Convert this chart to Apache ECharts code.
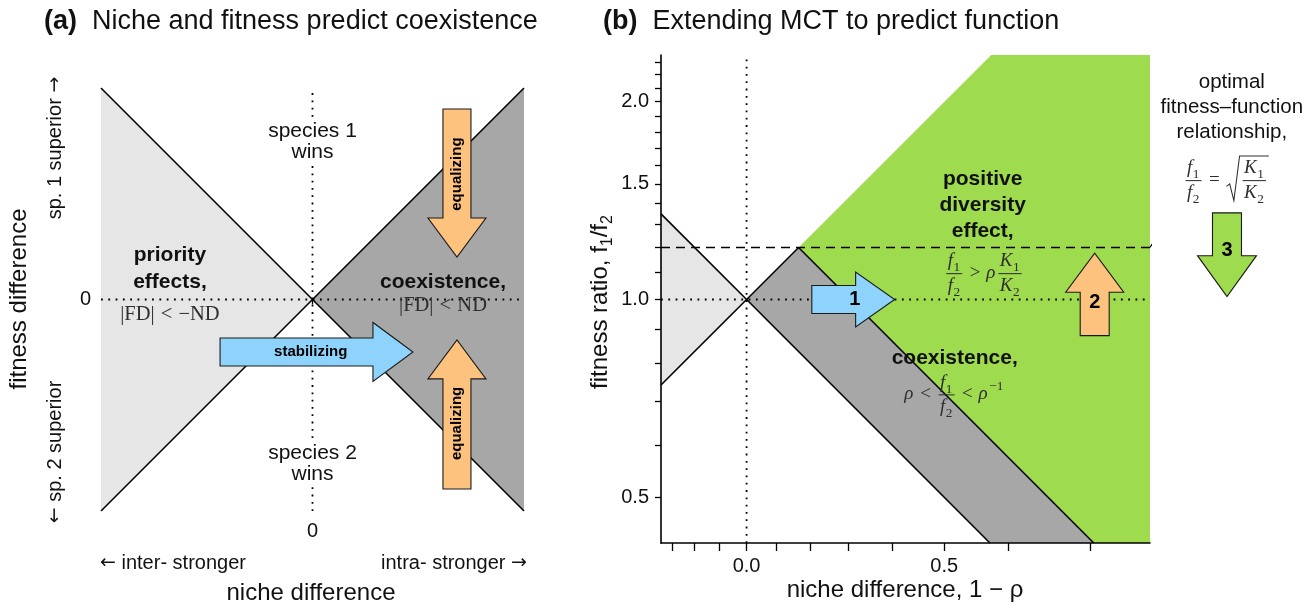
<!DOCTYPE html>
<html>
<head>
<meta charset="utf-8">
<script src="https://cdn.jsdelivr.net/npm/echarts@6/dist/echarts.min.js"></script>
<style>
  html, body { margin: 0; padding: 0; background: #fff; }
  #chart { width: 1316px; height: 608px; }
</style>
</head>
<body>
<div id="chart"></div>
<script>
// ---------- Panel (a): niche difference vs fitness difference (schematic) ----------
const nicheRangeA = [-1, 1];
const fitnessRangeA = [-1, 1];
const priorityRegionA = [[-1, 1], [0, 0], [-1, -1]];
const coexistRegionA = [[1, 1], [0, 0], [1, -1]];
const boundaryDownA = [[-1, 1], [1, -1]];
const boundaryUpA = [[-1, -1], [1, 1]];

// ---------- Panel (b): niche difference 1-ρ vs fitness ratio f1/f2 ----------
const nicheRangeB = [-0.35, 0.757];
const ratioRangeB = [0.426, 2.356];
const nicheTicksB = [-0.3, -0.2, -0.1, 0, 0.1, 0.2, 0.3, 0.4, 0.5, 0.6, 0.7];
const nicheLabelsB = [0, 0.5];
const ratioTicksB = [0.5, 0.6, 0.7, 0.8, 0.9, 1.0, 1.1, 1.2, 1.3, 1.4, 1.5, 1.6, 1.7, 1.8, 1.9, 2.0, 2.1, 2.2, 2.3];
const ratioLabelsB = [0.5, 1.0, 1.5, 2.0];
const optimalRatioB = 1.2;                                              // sqrt(K1/K2)
const lowerBoundB = [[-0.35, 1.35], [0, 1], [0.574, 0.426]];            // f1/f2 = rho
const upperBoundB = [[-0.35, 0.741], [0, 1], [0.1667, 1.2]];            // f1/f2 = 1/rho
const diversityBoundB = [[0.1667, 1.2], [0.704, 0.426]];                // f1/f2 = rho*K1/K2
const priorityRegionB = [[-0.35, 1.35], [0, 1], [-0.35, 0.741]];
const coexistRegionB = [[0, 1], [0.1667, 1.2], [0.704, 0.426], [0.574, 0.426]];
const diversityRegionB = [[0.1667, 1.2], [0.576, 2.356], [0.757, 2.356], [0.757, 0.426], [0.704, 0.426]];

// ---------- styling ----------
const SANS = '"Liberation Sans", Arial, Helvetica, sans-serif';
const ARROWS = '"DejaVu Sans", sans-serif';
const SERIF = '"Liberation Serif", "DejaVu Serif", serif';
const INK = '#111';
const MATH_INK = '#2e2e2e';
const LIGHT_GREY = '#e6e6e6';
const DARK_GREY = '#a7a7a7';
const GREEN = '#9edb4e';
const BLUE = '#8ed3fb';
const ORANGE = '#fdc27e';

// Panel (b) axes are drawn in log space: u = -log2(rho), v = log2(f1/f2)
const toU = x => -Math.log2(1 - x);
const toV = f => Math.log2(f);
const idA = p => p;
const tB = p => [toU(p[0]), toV(p[1])];

// ---------- small math typesetter (fractions, sub/superscripts, radicals) ----------
const measureCtx = document.createElement('canvas').getContext('2d');
function mFont(size, italic) { return (italic ? 'italic ' : '') + size + 'px ' + SERIF; }
function textWidth(s, font) { measureCtx.font = font; return measureCtx.measureText(s).width; }
function rowWidth(row, fs) { return row.reduce((w, t) => w + tokWidth(t, fs), 0); }
function tokWidth(t, fs) {
  if (t.op) return textWidth(t.op, mFont(fs, false)) + fs * 0.6;
  if (t.frac) return Math.max(rowWidth(t.frac[0], fs), rowWidth(t.frac[1], fs)) + fs * 0.35;
  if (t.sqrt) return fs * 0.8 + rowWidth(t.sqrt, fs) + fs * 0.05;
  const s = fs * 0.7;
  let ws = 0;
  if (t.sub) ws = Math.max(ws, textWidth(t.sub, mFont(s, false)));
  if (t.sup) ws = Math.max(ws, textWidth(t.sup, mFont(s, false)) + 0.05 * fs);
  return textWidth(t.v, mFont(fs, t.it)) + ws + (t.it ? fs * 0.06 : 0);
}
function mText(s, x, y, size, italic, color, align) {
  return { type: 'text', x: x, y: y, style: { text: s, fontSize: size, fontFamily: SERIF,
    fontStyle: italic ? 'italic' : 'normal', fill: color, align: align, verticalAlign: 'middle' } };
}
function drawRow(row, x, y, fs, color, out) {
  row.forEach(t => { drawTok(t, x, y, fs, color, out); x += tokWidth(t, fs); });
}
function drawTok(t, x, y, fs, color, out) {
  const w = tokWidth(t, fs);
  const lw = Math.max(1, 0.055 * fs);
  if (t.op) {
    out.push(mText(t.op, x + w / 2, y - 0.04 * fs, fs, false, color, 'center'));
  } else if (t.frac) {
    const num = t.frac[0], den = t.frac[1];
    drawRow(num, x + (w - rowWidth(num, fs)) / 2, y - 0.6 * fs, fs, color, out);
    drawRow(den, x + (w - rowWidth(den, fs)) / 2, y + 0.68 * fs, fs, color, out);
    out.push({ type: 'line', shape: { x1: x + 0.1 * fs, y1: y, x2: x + w - 0.1 * fs, y2: y },
      style: { stroke: color, lineWidth: lw } });
  } else if (t.sqrt) {
    const top = y - 1.3 * fs, bot = y + 1.05 * fs;
    out.push({ type: 'polyline', shape: { points: [[x + 0.05 * fs, y + 0.3 * fs], [x + 0.22 * fs, y + 0.17 * fs],
      [x + 0.44 * fs, bot], [x + 0.74 * fs, top], [x + w, top]] },
      style: { stroke: color, lineWidth: lw, fill: null } });
    drawRow(t.sqrt, x + 0.8 * fs, y, fs, color, out);
  } else {
    out.push(mText(t.v, x, y - 0.04 * fs, fs, t.it, color, 'left'));
    const wx = x + textWidth(t.v, mFont(fs, t.it)) + (t.it ? 0.03 * fs : 0);
    if (t.sub) out.push(mText(t.sub, wx, y + 0.3 * fs, 0.7 * fs, false, color, 'left'));
    if (t.sup) out.push(mText(t.sup, wx + 0.05 * fs, y - 0.42 * fs, 0.7 * fs, false, color, 'left'));
  }
}
function mathElements(row, cx, cy, fs, color) {
  const out = [];
  drawRow(row, cx - rowWidth(row, fs) / 2, cy, fs, color, out);
  return out;
}

const f1 = [{ v: 'f', it: true, sub: '1' }], f2 = [{ v: 'f', it: true, sub: '2' }];
const K1 = [{ v: 'K', it: true, sub: '1' }], K2 = [{ v: 'K', it: true, sub: '2' }];
const mathPriority = [{ v: '|FD|' }, { op: '<' }, { v: '−ND' }];
const mathCoexistA = [{ v: '|FD|' }, { op: '<' }, { v: 'ND' }];
const mathDiversity = [{ frac: [f1, f2] }, { op: '>' }, { v: 'ρ', it: true }, { frac: [K1, K2] }];
const mathCoexistB = [{ v: 'ρ', it: true }, { op: '<' }, { frac: [f1, f2] }, { op: '<' }, { v: 'ρ', it: true, sup: '−1' }];
const mathOptimal = [{ frac: [f1, f2] }, { op: '=' }, { sqrt: [{ frac: [K1, K2] }] }];

// ---------- annotation placement (axis units of each panel) ----------
const labelsA = [
  { at: [-0.674, 0.147], text: 'priority\neffects,', size: 21, bold: true, lh: 27 },
  { at: [-0.674, -0.073], math: mathPriority, size: 20.5 },
  { at: [0, 0.745], text: 'species 1\nwins', size: 21, lh: 21, bg: '#fff' },
  { at: [0, -0.775], text: 'species 2\nwins', size: 21, lh: 21, bg: '#fff' },
  { at: [0.617, 0.083], text: 'coexistence,', size: 21, bold: true, lh: 24 },
  { at: [0.617, -0.035], math: mathCoexistA, size: 20.5 }
];
const labelsB = [
  { at: [0.563, 1.394], text: 'positive\ndiversity\neffect,', size: 21, bold: true, lh: 26 },
  { at: [0.565, 1.095], math: mathDiversity, size: 19 },
  { at: [0.518, 0.813], text: 'coexistence,', size: 21, bold: true, lh: 24 },
  { at: [0.517, 0.716], math: mathCoexistB, size: 19 },
  { at: [0.8176, 1.960], text: 'optimal\nfitness–function\nrelationship,', size: 20.5, lh: 25 },
  { at: [0.814, 1.517], math: mathOptimal, size: 19 }
];
const arrowsA = [
  { from: [-0.437, -0.248], to: [0.475, -0.248], sw: 28, hw: 59, hl: 40, fill: BLUE, text: 'stabilizing', size: 15, t: 0.47 },
  { from: [0.683, 0.901], to: [0.683, 0.201], sw: 28, hw: 58, hl: 39, fill: ORANGE, text: 'equalizing', size: 15, t: 0.44, rot: Math.PI / 2 },
  { from: [0.683, -0.896], to: [0.683, -0.191], sw: 28, hw: 58, hl: 39, fill: ORANGE, text: 'equalizing', size: 15, t: 0.44, rot: Math.PI / 2 }
];
const arrowsB = [
  { from: [0.2045, 1.0], to: [0.405, 1.0], sw: 28, hw: 55, hl: 39, fill: BLUE, text: '1', size: 20, t: 0.52 },
  { from: [0.705, 0.881], to: [0.705, 1.176], sw: 29, hw: 58, hl: 39, fill: ORANGE, text: '2', size: 20, t: 0.4 },
  { from: [0.8145, 1.355], to: [0.8145, 1.010], sw: 29, hw: 59, hl: 41, fill: GREEN, text: '3', size: 20, t: 0.45 }
];

// ---------- series builders ----------
function regionSeries(grid, pts, tf, color) {
  const data = pts.map(tf);
  return {
    type: 'custom', xAxisIndex: grid, yAxisIndex: grid, silent: true, z: 1, data: data,
    renderItem: (params, api) => params.dataIndex === 0
      ? { type: 'polygon', shape: { points: data.map(p => api.coord(p)) }, style: { fill: color } }
      : null
  };
}
function lineSeries(grid, pts, tf, style, clip) {
  return {
    type: 'line', xAxisIndex: grid, yAxisIndex: grid, data: pts.map(tf), symbol: 'none',
    silent: true, z: 3, clip: clip !== false, lineStyle: style
  };
}
const solid = { color: '#000', width: 1.6 };
const dotted = { color: '#000', width: 1.8, type: [1.8, 5.5] };
const dashed = { color: '#000', width: 1.6, type: [9, 6] };

function labelSeries(grid, items, tf) {
  return {
    type: 'custom', xAxisIndex: grid, yAxisIndex: grid, silent: true, clip: false, z: 5,
    data: items.map(it => tf(it.at)),
    renderItem: (params, api) => {
      const it = items[params.dataIndex];
      const p = api.coord(tf(it.at));
      if (it.math) return { type: 'group', children: mathElements(it.math, p[0], p[1], it.size, MATH_INK) };
      return {
        type: 'text', x: p[0], y: p[1],
        style: { text: it.text, fontSize: it.size, fontWeight: it.bold ? 'bold' : 'normal', fontFamily: SANS,
          fill: INK, align: 'center', verticalAlign: 'middle', lineHeight: it.lh,
          backgroundColor: it.bg || 'transparent', padding: it.bg ? [1, 2] : 0 }
      };
    }
  };
}

function arrowPoints(p0, p1, sw, hw, hl) {
  const dx = p1[0] - p0[0], dy = p1[1] - p0[1], L = Math.hypot(dx, dy);
  const ux = dx / L, uy = dy / L, nx = -uy, ny = ux;
  const bx = p1[0] - ux * hl, by = p1[1] - uy * hl;
  return [
    [p0[0] + nx * sw / 2, p0[1] + ny * sw / 2],
    [bx + nx * sw / 2, by + ny * sw / 2],
    [bx + nx * hw / 2, by + ny * hw / 2],
    [p1[0], p1[1]],
    [bx - nx * hw / 2, by - ny * hw / 2],
    [bx - nx * sw / 2, by - ny * sw / 2],
    [p0[0] - nx * sw / 2, p0[1] - ny * sw / 2]
  ];
}
function arrowSeries(grid, arrows, tf) {
  return {
    type: 'custom', xAxisIndex: grid, yAxisIndex: grid, silent: true, clip: false, z: 6,
    data: arrows.map(a => tf(a.from)),
    renderItem: (params, api) => {
      const a = arrows[params.dataIndex];
      const p0 = api.coord(tf(a.from)), p1 = api.coord(tf(a.to));
      const lx = p0[0] + (p1[0] - p0[0]) * a.t, ly = p0[1] + (p1[1] - p0[1]) * a.t;
      return {
        type: 'group', children: [
          { type: 'polygon', shape: { points: arrowPoints(p0, p1, a.sw, a.hw, a.hl) },
            style: { fill: a.fill, stroke: '#1a1a1a', lineWidth: 1.1 } },
          { type: 'text', x: lx, y: ly, rotation: a.rot || 0,
            style: { text: a.text, fontSize: a.size, fontWeight: 'bold', fontFamily: SANS, fill: '#000',
              align: 'center', verticalAlign: 'middle' } }
        ]
      };
    }
  };
}

// ---------- static text ----------
function gText(x, y, text, size, opts) {
  opts = opts || {};
  return {
    type: 'text', x: x, y: y, rotation: opts.rot || 0, silent: true,
    style: { text: text, fontSize: size, fontFamily: SANS, fill: INK, fontWeight: 'normal',
      align: opts.align || 'center', verticalAlign: 'middle', rich: opts.rich }
  };
}
const titleRich = { b: { fontSize: 27, fontWeight: 'bold', fontFamily: SANS, fill: INK } };
const arrowRich = {
  t: { fontSize: 20, fontFamily: SANS, fill: INK },
  a: { fontSize: 19, fontFamily: ARROWS, fill: INK }
};
const subRich = {
  t: { fontSize: 24, fontFamily: SANS, fill: INK, lineHeight: 32, verticalAlign: 'middle' },
  s: { fontSize: 16, fontFamily: SANS, fill: INK, lineHeight: 16, verticalAlign: 'bottom' }
};

const axisFont = { fontSize: 20, fontFamily: SANS, color: INK };

const option = {
  animation: false,
  backgroundColor: '#fff',
  grid: [
    { left: 101, top: 88, width: 423, height: 423 },
    { left: 661, top: 55, width: 489, height: 488 }
  ],
  xAxis: [
    { gridIndex: 0, type: 'value', min: nicheRangeA[0], max: nicheRangeA[1],
      axisLine: { show: false }, splitLine: { show: false },
      axisTick: { show: true, customValues: [0], length: 5, lineStyle: { color: '#000', width: 1.3 } },
      axisLabel: Object.assign({ show: true, customValues: [0], margin: 10 }, axisFont) },
    { gridIndex: 1, type: 'value', min: toU(nicheRangeB[0]), max: toU(nicheRangeB[1]), z: 8,
      axisLine: { show: true, onZero: false, lineStyle: { color: '#000', width: 1.6 } },
      splitLine: { show: false },
      axisTick: { show: true, customValues: nicheTicksB.map(toU), length: 8, lineStyle: { color: '#000', width: 1.3 } },
      axisLabel: Object.assign({ show: true, customValues: nicheLabelsB.map(toU), margin: 13,
        formatter: v => (1 - Math.pow(2, -v)).toFixed(1) }, axisFont) }
  ],
  yAxis: [
    { gridIndex: 0, type: 'value', min: fitnessRangeA[0], max: fitnessRangeA[1],
      axisLine: { show: false }, splitLine: { show: false },
      axisTick: { show: true, customValues: [0], length: 5, lineStyle: { color: '#000', width: 1.3 } },
      axisLabel: Object.assign({ show: true, customValues: [0], margin: 10 }, axisFont) },
    { gridIndex: 1, type: 'value', min: toV(ratioRangeB[0]), max: toV(ratioRangeB[1]), z: 8,
      axisLine: { show: true, onZero: false, lineStyle: { color: '#000', width: 1.6 } },
      splitLine: { show: false },
      axisTick: { show: true, customValues: ratioTicksB.map(toV), length: 6, lineStyle: { color: '#000', width: 1.3 } },
      axisLabel: Object.assign({ show: true, customValues: ratioLabelsB.map(toV), margin: 12,
        formatter: v => Math.pow(2, v).toFixed(1) }, axisFont) }
  ],
  series: [
    // panel (a)
    regionSeries(0, priorityRegionA, idA, LIGHT_GREY),
    regionSeries(0, coexistRegionA, idA, DARK_GREY),
    lineSeries(0, boundaryDownA, idA, solid),
    lineSeries(0, boundaryUpA, idA, solid),
    lineSeries(0, [[nicheRangeA[0], 0], [nicheRangeA[1], 0]], idA, dotted),
    lineSeries(0, [[0, fitnessRangeA[0]], [0, fitnessRangeA[1]]], idA, dotted),
    labelSeries(0, labelsA, idA),
    arrowSeries(0, arrowsA, idA),
    // panel (b)
    regionSeries(1, priorityRegionB, tB, LIGHT_GREY),
    regionSeries(1, coexistRegionB, tB, DARK_GREY),
    regionSeries(1, diversityRegionB, tB, GREEN),
    lineSeries(1, lowerBoundB, tB, solid),
    lineSeries(1, upperBoundB, tB, solid),
    lineSeries(1, diversityBoundB, tB, solid),
    lineSeries(1, [[nicheRangeB[0], optimalRatioB], [nicheRangeB[1], optimalRatioB]], tB, dashed),
    lineSeries(1, [[nicheRangeB[1], optimalRatioB], [0.784, 1.45]], tB, { color: '#000', width: 1.1 }, false),
    lineSeries(1, [[nicheRangeB[0], 1], [nicheRangeB[1], 1]], tB, dotted),
    lineSeries(1, [[0, ratioRangeB[0]], [0, ratioRangeB[1]]], tB, dotted),
    labelSeries(1, labelsB, tB),
    arrowSeries(1, arrowsB, tB)
  ],
  graphic: [
    gText(44, 22, '{b|(a)}  Niche and fitness predict coexistence', 27, { align: 'left', rich: titleRich }),
    gText(603, 22, '{b|(b)}  Extending MCT to predict function', 27, { align: 'left', rich: titleRich }),
    gText(19, 299, 'fitness difference', 24, { rot: Math.PI / 2 }),
    gText(55, 148, '{t|sp. 1 superior }{a|→}', 20, { rot: Math.PI / 2, rich: arrowRich }),
    gText(55, 452, '{a|←}{t| sp. 2 superior}', 20, { rot: Math.PI / 2, rich: arrowRich }),
    gText(100, 563, '{a|←}{t| inter- stronger}', 20, { align: 'left', rich: arrowRich }),
    gText(527, 563, '{t|intra- stronger }{a|→}', 20, { align: 'right', rich: arrowRich }),
    gText(311, 593, 'niche difference', 24),
    gText(905, 590, 'niche difference, 1 − ρ', 24),
    gText(600, 302, '{t|fitness ratio, f}{s|1}{t|/f}{s|2}', 24, { rot: Math.PI / 2, rich: subRich })
  ]
};

const chart = echarts.init(document.getElementById('chart'), null, { renderer: 'canvas' });
chart.setOption(option);
</script>
</body>
</html>
